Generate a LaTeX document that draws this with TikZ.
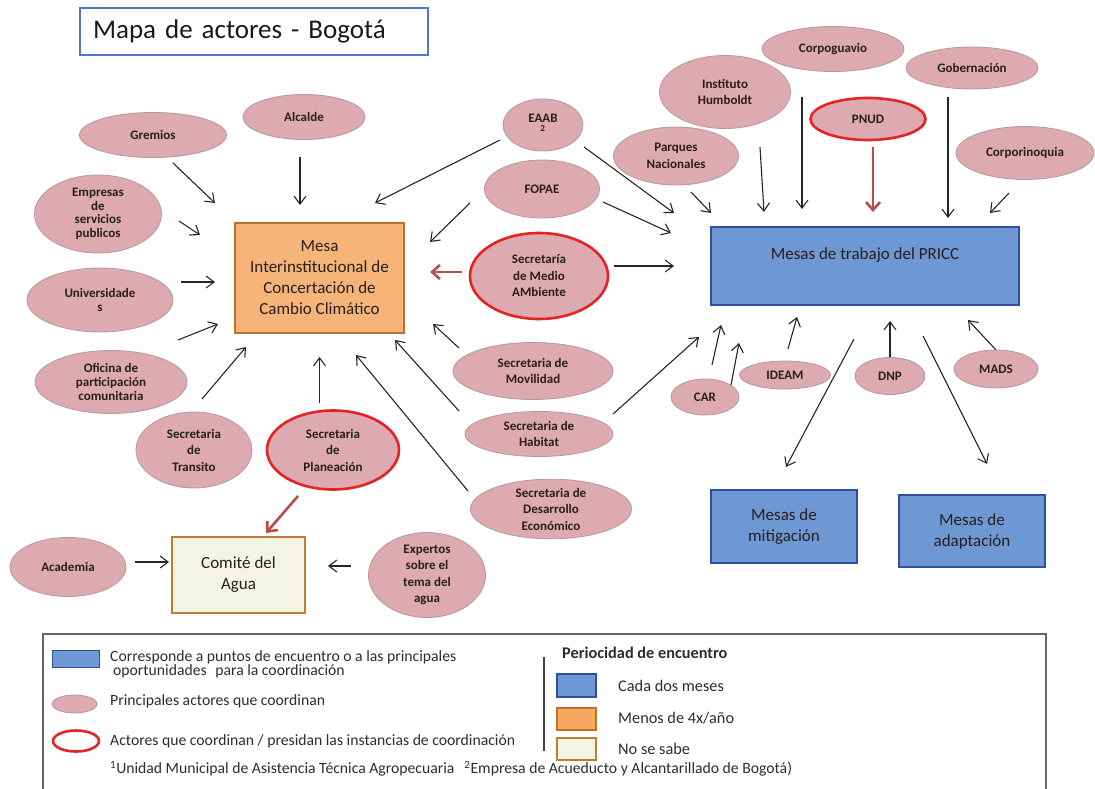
\documentclass[tikz,border=0pt]{standalone}
\usepackage{fontspec}
\setmainfont{Carlito}
\usetikzlibrary{shapes.geometric,arrows.meta,calc}
\definecolor{actfill}{RGB}{221,170,177}
\definecolor{actdraw}{RGB}{185,150,155}
\definecolor{redline}{RGB}{228,35,35}
\definecolor{redarrow}{RGB}{185,75,75}
\definecolor{orfill}{RGB}{246,180,120}
\definecolor{ordraw}{RGB}{185,115,45}
\definecolor{bluefill}{RGB}{110,152,212}
\definecolor{bluedraw}{RGB}{45,80,160}
\definecolor{creamfill}{RGB}{244,244,228}
\definecolor{creamdraw}{RGB}{190,125,55}
\definecolor{titledraw}{RGB}{80,120,200}
\definecolor{txt}{RGB}{40,30,30}
\definecolor{legtxt}{RGB}{45,45,45}
\begin{document}
\begin{tikzpicture}[x=1pt,y=-1pt,
  sz/.style 2 args={minimum width=#1pt, minimum height=#2pt},
  actor/.style={ellipse, fill=actfill, draw=actdraw, line width=0.8pt, inner sep=0pt, align=center,
    font=\fontsize{13}{13.6}\selectfont\bfseries, text=txt},
  wide/.style={font=\fontsize{13}{16.5}\selectfont\bfseries},
  lead/.style={actor, draw=redline, line width=2.6pt},
  boxbase/.style={rectangle, inner sep=0pt, align=center, font=\fontsize{17}{21}\selectfont, text=txt},
  bluebox/.style={boxbase, fill=bluefill, draw=bluedraw, line width=1.8pt},
  orbox/.style={boxbase, fill=orfill, draw=ordraw, line width=1.8pt},
  creambox/.style={boxbase, fill=creamfill, draw=creamdraw, line width=2.6pt},
  arr/.style={draw=black!85, line width=1.1pt, -{Straight Barb[length=8pt,width=12pt]}},
  redarr/.style={draw=redarrow, line width=2.6pt, -{Straight Barb[length=8pt,width=14pt]}},
  legtext/.style={anchor=west, inner sep=0pt, align=left, text=legtxt, font=\fontsize{15.7}{14}\selectfont},
  legtextr/.style={legtext, font=\fontsize{16.3}{17}\selectfont},
  legsym/.style={rectangle, inner sep=0pt, line width=1.5pt}
]
\useasboundingbox (0,0) rectangle (1095,789);
\fill[white] (0,0) rectangle (1095,789);

% title
\node[rectangle, draw=titledraw, line width=1.5pt, text width=322pt, inner xsep=13pt, inner ysep=0pt,
  minimum height=47pt, align=left, font=\fontsize{27}{30}\selectfont, text=black!90] (title) at (254,31.5)
  {Mapa de actores - Bogotá};

% boxes
\node[orbox, sz={169}{110}] (mesa) at (319.5,278) {Mesa\\Interinstitucional de\\Concertación de\\Cambio Climático};
\node[bluebox, sz={308}{78}] (pricc) at (865,266) {\raisebox{11pt}[12pt][3.5pt]{Mesas de trabajo del PRICC}};
\node[bluebox, sz={146}{73}] (mitig) at (784,526.5) {Mesas de\\mitigación};
\node[bluebox, sz={146}{72}] (adapt) at (972,531) {Mesas de\\adaptación};
\node[creambox, sz={133}{76}] (comite) at (238.5,575) {Comité del\\Agua};

% actors left
\node[actor, sz={147}{45}] (gremios) at (153,135) {Gremios};
\node[actor, sz={122}{45}] (alcalde) at (304,117) {Alcalde};
\node[actor, sz={127}{78}] (empresas) at (98,214) {Empresas\\de\\servicios\\publicos};
\node[actor, sz={146}{64}] (univ) at (100,300) {Universidade\\s};
\node[actor, sz={152}{63}] (oficina) at (111,382) {Oficina de\\participación\\comunitaria};
\node[actor, wide, sz={116}{76}] (transito) at (194,450) {Secretaria\\de\\Transito};
\node[lead, wide, sz={132}{79}] (planeacion) at (333,450) {Secretaria\\de\\Planeación};
\node[actor, sz={116}{59}] (academia) at (68,567) {Academia};
\node[actor, wide, sz={117}{81}] (expertos) at (427,575) {Expertos\\sobre el\\tema del\\agua};

% actors middle
\node[actor, sz={80}{52}] (eaab) at (543,125) {EAAB\\\textsuperscript{2}};
\node[actor, sz={115}{58}] (fopae) at (542,189) {FOPAE};
\node[lead, wide, sz={138}{86}] (medio) at (539,276) {Secretaría\\de Medio\\AMbiente};
\node[actor, wide, sz={160}{57}] (movilidad) at (533,371) {Secretaria de\\Movilidad};
\node[actor, wide, sz={148}{45}] (habitat) at (539,434) {Secretaria de\\Habitat};
\node[actor, wide, sz={161}{58}] (desarrollo) at (551,509) {Secretaria de\\Desarrollo\\Económico};

% actors right
\node[actor, wide, sz={125}{58}] (parques) at (676,156) {Parques\\Nacionales};
\node[actor, wide, sz={131}{73}] (humboldt) at (725,92) {Instituto\\Humboldt};
\node[actor, sz={142}{45}] (corpoguavio) at (833,49) {Corpoguavio};
\node[actor, sz={132}{42}] (gobernacion) at (972,68) {Gobernación};
\node[lead, sz={115}{42}] (pnud) at (868,119) {PNUD};
\node[actor, sz={138}{53}] (corporinoquia) at (1025,153) {Corporinoquia};
\node[actor, sz={68}{36}] (car) at (705,397) {CAR};
\node[actor, sz={91}{28}] (ideam) at (785,375) {IDEAM};
\node[actor, sz={70}{37}] (dnp) at (890,376) {DNP};
\node[actor, sz={84}{38}] (mads) at (996,369) {MADS};

% arrows to Mesa
\draw[arr] ($(gremios)+(20,28)$) -- ($(mesa)+(-104.5,-75)$);
\draw[arr] ($(alcalde)+(-4,40)$) -- ($(mesa)+(-19.5,-73)$);
\draw[arr] ($(eaab)+(-43,15)$) -- ($(mesa)+(55.5,-75)$);
\draw[arr] ($(fopae)+(-72,14)$) -- ($(mesa)+(110.5,-36)$);
\draw[arr] ($(empresas)+(81,7)$) -- ($(mesa)+(-119.5,-43)$);
\draw[arr] ($(univ)+(81,-18)$) -- ($(mesa)+(-104.5,4)$);
\draw[arr] ($(oficina)+(67,-42)$) -- ($(mesa)+(-101.5,46)$);
\draw[arr] ($(transito)+(8,-51)$) -- ($(mesa)+(-73.5,69)$);
\draw[arr] ($(planeacion)+(-13.5,-47)$) -- ($(mesa)+(0,79)$);
\draw[arr] ($(desarrollo)+(-83,-18)$) -- ($(mesa)+(36.5,77)$);
\draw[arr] ($(habitat)+(-80,-23)$) -- ($(mesa)+(75.5,62)$);
\draw[arr] ($(movilidad)+(-74,-23)$) -- ($(mesa)+(113.5,46)$);
\draw[redarr] ($(medio)+(-77,-4)$) -- ($(mesa)+(110.5,-6)$);

% arrows to PRICC
\draw[arr] ($(eaab)+(41,22)$) -- ($(pricc)+(-191,-53)$);
\draw[arr] ($(fopae)+(61,13)$) -- ($(pricc)+(-194,-33)$);
\draw[arr] ($(medio)+(75,-10)$) -- ($(pricc)+(-191,0)$);
\draw[arr] ($(parques)+(15,36)$) -- ($(pricc)+(-154,-53)$);
\draw[arr] ($(humboldt)+(35,55)$) -- ($(pricc)+(-101,-54)$);
\draw[arr] ($(corpoguavio)+(-31,48)$) -- ($(pricc)+(-63,-57)$);
\draw[redarr] ($(pnud)+(5,28)$) -- ($(pricc)+(8,-54)$);
\draw[arr] ($(gobernacion)+(-24,29)$) -- ($(pricc)+(83,-48)$);
\draw[arr] ($(corporinoquia)+(-16,40)$) -- ($(pricc)+(125,-53)$);
\draw[arr] ($(habitat)+(74,-20)$) -- ($(pricc)+(-166,71)$);
\draw[arr] ($(car)+(7,-32)$) -- ($(pricc)+(-144,59)$);
\draw[arr] ($(car)+(26,-12)$) -- ($(pricc)+(-126,77)$);
\draw[arr] ($(ideam)+(3,-26)$) -- ($(pricc)+(-68,51)$);
\draw[arr] ($(dnp)+(0,-19)$) -- ($(pricc)+(25,55)$);
\draw[arr] ($(mads)+(0,-19)$) -- ($(pricc)+(103,54)$);
\draw[arr] ($(pricc)+(-11,73)$) -- ($(mitig)+(2,-59.5)$);
\draw[arr] ($(pricc)+(58,70)$) -- ($(adapt)+(15,-67)$);

% arrows to Comite
\draw[arr] ($(academia)+(67,-5)$) -- ($(comite)+(-69.5,-13)$);
\draw[arr] ($(expertos)+(-76,-9)$) -- ($(comite)+(89.5,-9)$);
\draw[redarr] ($(planeacion)+(-35,46)$) -- ($(comite)+(27.5,-42)$);

% legend
\draw[draw=black!60, line width=1.3pt] (43,789) -- (43,634) -- (1046,634) -- (1046,789);
\node[legsym, fill=bluefill, draw=bluedraw, line width=0.8pt, sz={47}{17}] (lgblue) at (75.5,658.5) {};
\node[legtext] (lgt1) at (110,664) {Corresponde a puntos de encuentro o a las principales\\\hspace{3pt}oportunidades\hspace{5pt} para la coordinación};
\node[actor, sz={45}{18}] (lgpink) at (74.5,704) {};
\node[ellipse, draw=redline, line width=2.6pt, fill=white, inner sep=0pt, sz={46}{21}] (lgred) at (76,741) {};
\node[legtext] (lgt2) at (110,701) {Principales actores que coordinan};
\node[legtext] (lgt3) at (110,741) {Actores que coordinan / presidan las instancias de coordinación};
\node[legtext] (lgfoot) at (110,769) {\textsuperscript{1}Unidad Municipal de Asistencia Técnica Agropecuaria\hspace{10pt}\textsuperscript{2}Empresa de Acueducto y Alcantarillado de Bogotá)};
\draw[black!75, line width=1.3pt] (544,657) -- (544,751);
\node[legtext, font=\fontsize{16.3}{17}\selectfont\bfseries] (lgper) at (562,653) {Periocidad de encuentro};
\node[legsym, fill=bluefill, draw=bluedraw, sz={39}{23}] (lgsq1) at (576.5,685.5) {};
\node[legsym, fill=orfill!80!orange, draw=ordraw, sz={39}{22}] (lgsq2) at (576.5,719) {};
\node[legsym, fill=creamfill, draw=creamdraw, sz={39}{22}] (lgsq3) at (576.5,749) {};
\node[legtextr] (lgc1) at (618,686) {Cada dos meses};
\node[legtextr] (lgc2) at (618,718) {Menos de 4x/año};
\node[legtextr] (lgc3) at (618,749) {No se sabe};
\end{tikzpicture}
\end{document}
